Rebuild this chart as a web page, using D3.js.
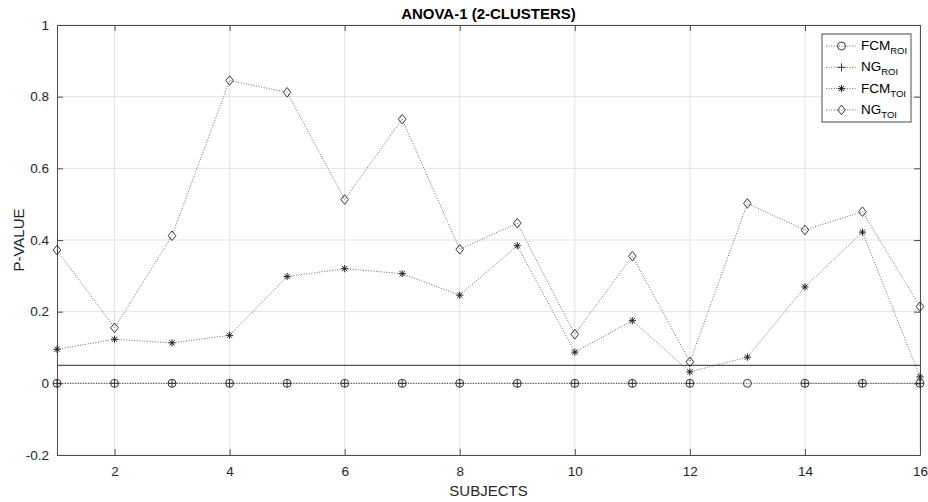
<!DOCTYPE html>
<html>
<head>
<meta charset="utf-8">
<script src="https://cdn.jsdelivr.net/npm/d3@7"></script>
<style>
  html, body { margin: 0; padding: 0; background: #fff; }
  svg { display: block; font-family: "Liberation Sans", Arial, Helvetica, sans-serif; }
</style>
</head>
<body>
<svg id="chart" width="928" height="502"></svg>
<script>
// Subjects on the x axis
const subjects = d3.range(1, 17);

// ANOVA-1 p-values per subject for each method / region
const fcmRoi = [0, 0, 0, 0, 0, 0, 0, 0, 0, 0, 0, 0, 0, 0, 0, 0];
const ngRoi  = [0, 0, 0, 0, 0, 0, 0, 0, 0, 0, 0, 0, null, 0, 0, 0];
const fcmToi = [0.095, 0.123, 0.113, 0.134, 0.298, 0.320, 0.306, 0.246,
                0.384, 0.087, 0.175, 0.032, 0.073, 0.269, 0.422, 0.018];
const ngToi  = [0.372, 0.155, 0.412, 0.845, 0.812, 0.513, 0.737, 0.374,
                0.447, 0.137, 0.355, 0.060, 0.502, 0.428, 0.479, 0.214];

// Significance threshold
const alpha = 0.05;

const xTicks = [2, 4, 6, 8, 10, 12, 14, 16];
const yTicks = [-0.2, 0, 0.2, 0.4, 0.6, 0.8, 1];

const seriesNames = [
  { base: "FCM", sub: "ROI", values: fcmRoi, marker: "circle" },
  { base: "NG",  sub: "ROI", values: ngRoi,  marker: "plus" },
  { base: "FCM", sub: "TOI", values: fcmToi, marker: "asterisk" },
  { base: "NG",  sub: "TOI", values: ngToi,  marker: "diamond" }
];

const svg = d3.select("#chart");
const plotL = 57, plotR = 920, plotT = 25, plotB = 455;
const axisColor = "#4d4d4d";
const textColor = "#262626";

const x = d3.scaleLinear().domain([1, 16]).range([plotL, plotR]);
const y = d3.scaleLinear().domain([-0.2, 1]).range([plotB, plotT]);

// Grid
const grid = svg.append("g");
grid.selectAll("line.gx").data(xTicks).join("line")
  .attr("x1", d => x(d)).attr("x2", d => x(d))
  .attr("y1", plotT).attr("y2", plotB)
  .attr("stroke", "#e3e3e3").attr("stroke-width", 1);
grid.selectAll("line.gy").data(yTicks).join("line")
  .attr("x1", plotL).attr("x2", plotR)
  .attr("y1", d => y(d)).attr("y2", d => y(d))
  .attr("stroke", "#e3e3e3").attr("stroke-width", 1);

// Axes (ticks pointing inward, box on all sides)
const tickLen = 6;
const axB = svg.append("g").attr("transform", `translate(0,${plotB})`)
  .call(d3.axisBottom(x).tickValues(xTicks).tickSizeInner(-tickLen).tickSizeOuter(0).tickPadding(11));
const axT = svg.append("g").attr("transform", `translate(0,${plotT})`)
  .call(d3.axisTop(x).tickValues(xTicks).tickSizeInner(-tickLen).tickSizeOuter(0).tickFormat(""));
const axL = svg.append("g").attr("transform", `translate(${plotL},0)`)
  .call(d3.axisLeft(y).tickValues(yTicks).tickSizeInner(-tickLen).tickSizeOuter(0).tickPadding(8)
    .tickFormat(d => String(+d.toFixed(1))));
const axR = svg.append("g").attr("transform", `translate(${plotR},0)`)
  .call(d3.axisRight(y).tickValues(yTicks).tickSizeInner(-tickLen).tickSizeOuter(0).tickFormat(""));
[axB, axT, axL, axR].forEach(a => {
  a.select(".domain").attr("stroke", axisColor);
  a.selectAll(".tick line").attr("stroke", axisColor);
  a.selectAll(".tick text").attr("fill", textColor)
    .style("font-size", "13.5px").style("font-family", "'Liberation Sans', Arial, sans-serif");
});
axL.selectAll(".tick text").attr("dy", "0.32em");

// Significance line
svg.append("line")
  .attr("x1", x(1)).attr("x2", x(16))
  .attr("y1", y(alpha)).attr("y2", y(alpha))
  .attr("stroke", "#555").attr("stroke-width", 1.2);

// Marker drawing
function drawMarker(g, type, cx, cy) {
  const c = "#222";
  if (type === "circle") {
    g.append("circle").attr("cx", cx).attr("cy", cy).attr("r", 4)
      .attr("fill", "none").attr("stroke", c).attr("stroke-width", 0.9);
  } else if (type === "plus") {
    g.append("path").attr("d", `M${cx - 4},${cy}H${cx + 4}M${cx},${cy - 4}V${cy + 4}`)
      .attr("stroke", c).attr("stroke-width", 0.9).attr("fill", "none");
  } else if (type === "asterisk") {
    const r = 3.6, s = r * 0.72;
    g.append("path").attr("d",
      `M${cx - r},${cy}H${cx + r}M${cx},${cy - r}V${cy + r}` +
      `M${cx - s},${cy - s}L${cx + s},${cy + s}M${cx - s},${cy + s}L${cx + s},${cy - s}`)
      .attr("stroke", c).attr("stroke-width", 1).attr("fill", "none");
  } else if (type === "diamond") {
    const w = 3.8, h = 4.8;
    g.append("path").attr("d", `M${cx},${cy - h}L${cx + w},${cy}L${cx},${cy + h}L${cx - w},${cy}Z`)
      .attr("stroke", c).attr("stroke-width", 0.9).attr("fill", "none");
  }
}

// Series lines and markers
const line = d3.line()
  .defined(d => d[1] !== null)
  .x(d => x(d[0])).y(d => y(d[1]));

seriesNames.forEach(s => {
  const pts = subjects.map((sub, i) => [sub, s.values[i]]);
  svg.append("path").datum(pts)
    .attr("d", line)
    .attr("fill", "none").attr("stroke", "#444").attr("stroke-width", 0.8)
    .attr("stroke-dasharray", "1,1.6");
  const mg = svg.append("g");
  pts.filter(p => p[1] !== null).forEach(p => drawMarker(mg, s.marker, x(p[0]), y(p[1])));
});

// Title and axis labels
svg.append("text").attr("x", (plotL + plotR) / 2).attr("y", 19)
  .attr("text-anchor", "middle").attr("fill", "#000")
  .style("font-size", "15px").style("font-weight", "bold")
  .text("ANOVA-1 (2-CLUSTERS)");
svg.append("text").attr("x", (plotL + plotR) / 2).attr("y", 496)
  .attr("text-anchor", "middle").attr("fill", textColor)
  .style("font-size", "15px").text("SUBJECTS");
svg.append("text")
  .attr("transform", `translate(24,${(plotT + plotB) / 2}) rotate(-90)`)
  .attr("text-anchor", "middle").attr("fill", textColor)
  .style("font-size", "15px").text("P-VALUE");

// Legend
const lg = svg.append("g");
lg.append("rect").attr("x", 822).attr("y", 34).attr("width", 89).attr("height", 88)
  .attr("fill", "#fff").attr("stroke", axisColor).attr("stroke-width", 1);
seriesNames.forEach((s, i) => {
  const ly = 46 + i * 21.3;
  lg.append("line").attr("x1", 826).attr("x2", 857).attr("y1", ly).attr("y2", ly)
    .attr("stroke", "#444").attr("stroke-width", 0.8).attr("stroke-dasharray", "1,1.6");
  drawMarker(lg, s.marker, 841.5, ly);
  const t = lg.append("text").attr("x", 861).attr("y", ly + 4).attr("fill", "#000")
    .style("font-size", "13.5px");
  t.append("tspan").text(s.base);
  t.append("tspan").attr("dy", 4).style("font-size", "9.5px").text(s.sub);
});
</script>
</body>
</html>
